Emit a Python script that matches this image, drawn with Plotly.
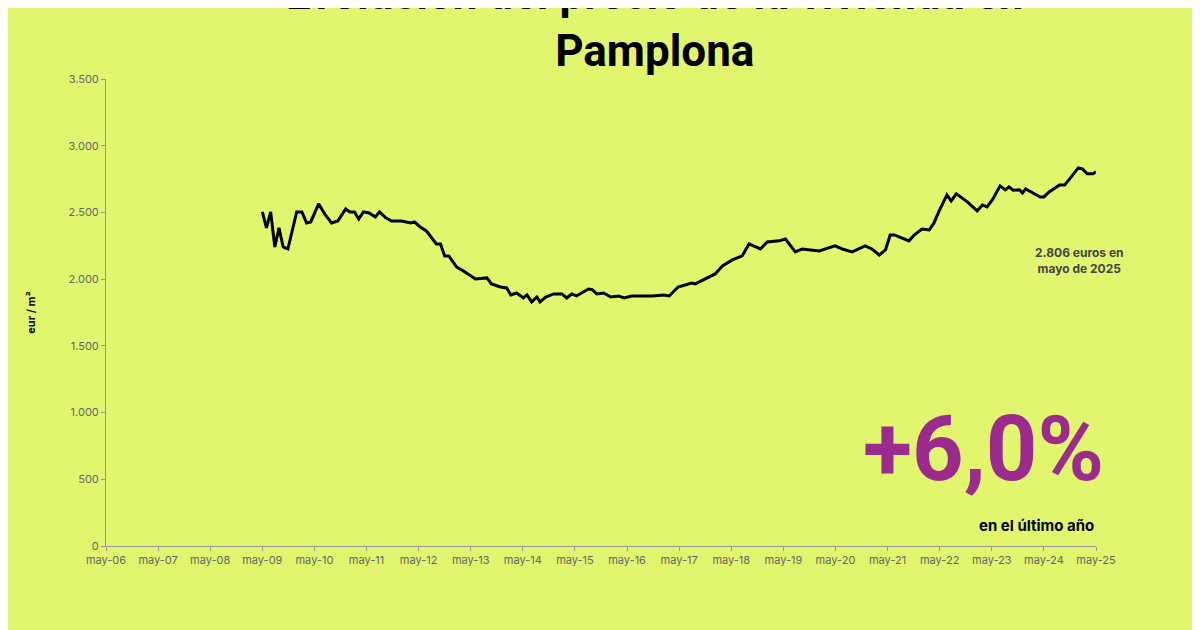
import plotly.graph_objects as go

# fractional year, eur/m2
years = [
    2009.00, 2009.08, 2009.16, 2009.24, 2009.32, 2009.40, 2009.49, 2009.66, 2009.76, 2009.85,
    2009.93, 2010.08, 2010.21, 2010.33, 2010.45, 2010.60, 2010.68, 2010.77, 2010.85, 2010.94,
    2011.05, 2011.17, 2011.25, 2011.37, 2011.48, 2011.67, 2011.85, 2011.92, 2012.03, 2012.15,
    2012.34, 2012.42, 2012.50, 2012.58, 2012.73, 2012.86, 2013.09, 2013.31, 2013.40, 2013.57,
    2013.69, 2013.77, 2013.88, 2014.01, 2014.08, 2014.17, 2014.27, 2014.33, 2014.44, 2014.59,
    2014.75, 2014.84, 2014.94, 2015.03, 2015.26, 2015.33, 2015.42, 2015.55, 2015.69, 2015.84,
    2015.94, 2016.09, 2016.32, 2016.48, 2016.71, 2016.81, 2016.98, 2017.24, 2017.31, 2017.50,
    2017.69, 2017.83, 2018.02, 2018.21, 2018.34, 2018.56, 2018.69, 2018.92, 2019.04, 2019.23,
    2019.36, 2019.69, 2019.99, 2020.13, 2020.32, 2020.57, 2020.70, 2020.84, 2020.96, 2021.05,
    2021.13, 2021.41, 2021.51, 2021.66, 2021.80, 2021.89, 2021.99, 2022.14, 2022.22, 2022.32,
    2022.53, 2022.72, 2022.82, 2022.91, 2023.01, 2023.16, 2023.26, 2023.33, 2023.41, 2023.53,
    2023.59, 2023.65, 2023.93, 2024.00, 2024.10, 2024.30, 2024.40, 2024.51, 2024.66, 2024.74,
    2024.83, 2024.94, 2025.00,
]
price = [
    2504, 2384, 2504, 2241, 2384, 2241, 2226, 2504, 2504, 2421,
    2429, 2564, 2481, 2421, 2436, 2526, 2504, 2504, 2451, 2504,
    2496, 2466, 2504, 2459, 2436, 2436, 2421, 2429, 2391, 2361,
    2264, 2264, 2174, 2174, 2091, 2061, 2001, 2009, 1964, 1941,
    1934, 1881, 1896, 1859, 1881, 1829, 1866, 1829, 1866, 1889,
    1889, 1859, 1889, 1874, 1926, 1922, 1889, 1896, 1866, 1874,
    1859, 1874, 1874, 1874, 1881, 1874, 1941, 1971, 1964, 2001,
    2039, 2099, 2144, 2174, 2264, 2226, 2279, 2287, 2301, 2204,
    2226, 2211, 2249, 2226, 2204, 2249, 2226, 2181, 2219, 2331,
    2331, 2287, 2331, 2376, 2369, 2421, 2511, 2631, 2586, 2639,
    2579, 2511, 2556, 2541, 2594, 2699, 2669, 2691, 2666, 2669,
    2646, 2676, 2616, 2616, 2654, 2706, 2706, 2759, 2834, 2826,
    2789, 2789, 2806,
]
tick_years = list(range(2006, 2026))
tick_labels = [f"may-{y % 100:02d}" for y in tick_years]
y_ticks = [0, 500, 1000, 1500, 2000, 2500, 3000, 3500]
y_labels = ["0", "500", "1.000", "1.500", "2.000", "2.500", "3.000", "3.500"]

bg = "#e2f56f"
fig = go.Figure()
fig.add_trace(go.Scatter(x=years, y=price, mode="lines",
                         line=dict(color="black", width=3), hoverinfo="skip"))

fig.update_layout(
    width=1200, height=630, paper_bgcolor=bg, plot_bgcolor=bg,
    showlegend=False, font=dict(family="Inter, sans-serif", color="#555"),
    margin=dict(l=98, r=112, t=71, b=92),
)
fig.update_xaxes(range=[2006, 2025], tickvals=tick_years, ticktext=tick_labels,
                 showgrid=False, zeroline=False, showline=True, linecolor="#999",
                 ticks="outside", ticklen=4, tickcolor="#999",
                 tickfont=dict(size=11, color="#666"))
fig.update_yaxes(range=[0, 3500], tickvals=y_ticks, ticktext=y_labels,
                 showgrid=False, zeroline=False, showline=True, linecolor="#999",
                 ticks="outside", ticklen=4, tickcolor="#999",
                 tickfont=dict(size=11, color="#666"),
                 title=dict(text="<b>eur / m²</b>", standoff=30,
                            font=dict(size=11, color="black")))

# title as a paper annotation so it is not pushed off the top
fig.add_annotation(xref="paper", yref="paper", x=0.555, y=1.12, xanchor="center",
                   yanchor="middle", showarrow=False,
                   text="<b>Evolución del precio de la vivienda en<br>Pamplona</b>",
                   font=dict(size=44, color="black", family="Roboto, sans-serif"))

# leader line and label for the last value
fig.add_shape(type="line", x0=years[-1], y0=price[-1], x1=2025.33, y1=2270,
              line=dict(color="#777", width=1, dash="dot"))
fig.add_annotation(xref="paper", yref="paper", x=1.03, y=0.612,
                   text="<b>2.806 euros en<br>mayo de 2025</b>", showarrow=False,
                   font=dict(size=12, color="#444"))
fig.add_annotation(xref="paper", yref="paper", x=1.01, y=0.09, xanchor="right",
                   yanchor="bottom", text="<b>+6,0%</b>", showarrow=False,
                   font=dict(size=90, color="#9b2c8e", family="Roboto, sans-serif"))
fig.add_annotation(xref="paper", yref="paper", x=1.0, y=0.02, xanchor="right",
                   yanchor="bottom", text="<b>en el último año</b>", showarrow=False,
                   font=dict(size=15, color="black"))

fig.write_html("out.html")
